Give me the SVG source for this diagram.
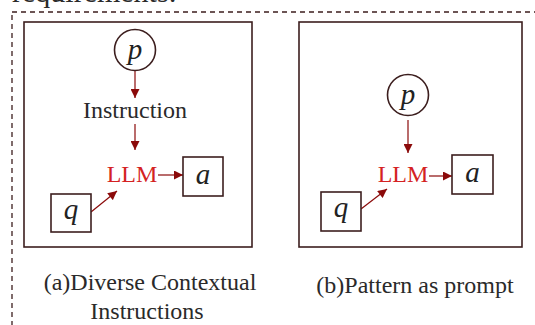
<svg xmlns="http://www.w3.org/2000/svg" width="535" height="325" viewBox="0 0 535 325">
<defs>
<marker id="ah" viewBox="0 0 10 10" refX="10" refY="5" markerWidth="10" markerHeight="9" markerUnits="userSpaceOnUse" orient="auto">
<path d="M0,0 L10,5 L0,10 z" fill="#8b0a0a"/>
</marker>
</defs>
<style>
.panel{fill:none;stroke:#3c1e1e;stroke-width:1.6}
.node{fill:#fff;stroke:#3c1e1e;stroke-width:1.6}
.var{font-family:"Liberation Serif",serif;font-style:italic;font-size:29px;fill:#222;text-anchor:middle}
.lbl{font-family:"Liberation Serif",serif;font-size:24px;fill:#2a2a2a;text-anchor:middle}
.llm{font-family:"Liberation Serif",serif;font-size:24px;fill:#d42222;text-anchor:middle}
.conn{stroke:#8b0a0a;stroke-width:1.2;fill:none;marker-end:url(#ah)}
</style>
<rect width="535" height="325" fill="#fff"/>
<text x="12" y="2" class="lbl" style="text-anchor:start;font-size:30px">requirements:</text>
<rect x="12" y="12" width="530" height="320" fill="none" stroke="#3c1e1e" stroke-width="1.3" stroke-dasharray="5,4"/>
<rect class="panel" x="24" y="22" width="228" height="225"/>
<rect class="panel" x="299" y="22" width="223" height="225"/>
<g id="connectors">
<line class="conn" x1="135" y1="71" x2="135" y2="98"/>
<line class="conn" x1="135" y1="124" x2="135" y2="150"/>
<line class="conn" x1="158" y1="175" x2="183" y2="175"/>
<line class="conn" x1="91" y1="212" x2="117" y2="191"/>
<line class="conn" x1="408" y1="120" x2="408" y2="153"/>
<line class="conn" x1="429" y1="176" x2="452" y2="176"/>
<line class="conn" x1="361" y1="209" x2="387" y2="189"/>
</g>
<g id="a-p"><circle class="node" cx="135" cy="50" r="20.5"/><text class="var" x="135" y="59">p</text></g>
<g id="a-instruction"><text class="lbl" x="135" y="118">Instruction</text></g>
<g id="a-llm"><text class="llm" x="132" y="182">LLM</text></g>
<g id="a-a"><rect class="node" x="183" y="157" width="40" height="39"/><text class="var" x="203" y="184">a</text></g>
<g id="a-q"><rect class="node" x="51" y="194" width="40" height="38"/><text class="var" x="71" y="219">q</text></g>
<g id="b-p"><circle class="node" cx="408" cy="95" r="20.5"/><text class="var" x="408" y="104">p</text></g>
<g id="b-llm"><text class="llm" x="403" y="182">LLM</text></g>
<g id="b-a"><rect class="node" x="452" y="155" width="41" height="39"/><text class="var" x="472.5" y="182">a</text></g>
<g id="b-q"><rect class="node" x="321" y="192" width="40" height="39"/><text class="var" x="341" y="217">q</text></g>
<text class="lbl" x="150" y="290">(a)Diverse Contextual</text>
<text class="lbl" x="147" y="319">Instructions</text>
<text class="lbl" x="415" y="293">(b)Pattern as prompt</text>
</svg>
